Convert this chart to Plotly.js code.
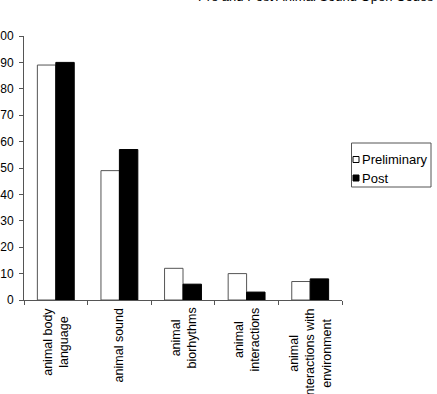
<!DOCTYPE html>
<html>
<head>
<meta charset="utf-8">
<script src="https://cdn.plot.ly/plotly-3.0.1.min.js"></script>
<style>
  html, body { margin: 0; padding: 0; background: #fff; }
  #chart { width: 437px; height: 394px; }
</style>
</head>
<body>
<div id="chart"></div>
<script>
// Open-code categories and their counts for each phase
const categories = [
  "animal body<br>language",
  "animal sound",
  "animal<br>biorhythms",
  "animal<br>interactions",
  "animal<br>interactions with<br>environment"
];
const seriesNames = ["Preliminary", "Post"];
const preliminary = [89, 49, 12, 10, 7];
const post = [90, 57, 6, 3, 8];
const yTicks = [0, 10, 20, 30, 40, 50, 60, 70, 80, 90, 100];
const chartTitle = "Pre and Post Animal Sound Open Codes";

const W = 437, H = 394;
const M = { l: 24, r: 95, t: 36, b: 94 };
const plotW = W - M.l - M.r, plotH = H - M.t - M.b;
// pixel -> paper coordinate helpers
const px = x => (x - M.l) / plotW;
const py = y => (H - M.b - y) / plotH;

const FONT = "Liberation Sans, Arial, sans-serif";
const AXIS = "#555555";

const traces = [
  {
    type: "bar", name: seriesNames[0], x: categories, y: preliminary,
    marker: { color: "#ffffff", line: { color: AXIS, width: 1 } },
    hoverinfo: "skip"
  },
  {
    type: "bar", name: seriesNames[1], x: categories, y: post,
    marker: { color: "#000000", line: { color: "#000000", width: 1 } },
    hoverinfo: "skip"
  }
];

// Rotated category labels beneath the axis, lines centred
const labelAnnotations = categories.map(c => ({
  x: c, xref: "x", y: py(306), yref: "paper",
  text: c, showarrow: false, textangle: -90,
  xanchor: "center", yanchor: "top", align: "center",
  font: { family: FONT, size: 12.5, color: "#000" }
}));

// Legend box drawn with shapes and text
const legendShapes = [
  { type: "rect", xref: "paper", yref: "paper",
    x0: px(351.5), x1: px(431), y0: py(143), y1: py(187),
    line: { color: AXIS, width: 1 }, fillcolor: "#fff" },
  { type: "rect", xref: "paper", yref: "paper",
    x0: px(353), x1: px(359), y0: py(156.5), y1: py(162.5),
    line: { color: "#000", width: 1 }, fillcolor: "#fff" },
  { type: "rect", xref: "paper", yref: "paper",
    x0: px(353), x1: px(359), y0: py(175), y1: py(181),
    line: { color: "#000", width: 1 }, fillcolor: "#000" }
];
const legendText = [
  { name: seriesNames[0], cy: 159.5 },
  { name: seriesNames[1], cy: 178 }
].map(d => ({
  xref: "paper", yref: "paper", x: px(359.5), y: py(d.cy),
  xanchor: "left", yanchor: "middle", text: d.name, showarrow: false,
  font: { family: FONT, size: 13, color: "#000" }
}));

// Chart title sits at the very top edge of the page
const titleAnn = {
  xref: "paper", yref: "paper", x: px(436), y: py(5.5),
  xanchor: "right", yanchor: "bottom", text: chartTitle, showarrow: false,
  font: { family: FONT, size: 13, color: "#000" }
};

const layout = {
  width: W, height: H,
  margin: M,
  paper_bgcolor: "#fff", plot_bgcolor: "#fff",
  showlegend: false,
  barmode: "group", bargap: 0.42, bargroupgap: 0,
  font: { family: FONT, size: 11, color: "#000" },
  xaxis: {
    type: "category", tickson: "boundaries",
    showticklabels: false, ticks: "outside", ticklen: 4, tickcolor: AXIS,
    showline: true, linecolor: AXIS, linewidth: 1,
    showgrid: false, zeroline: false, automargin: false, fixedrange: true
  },
  yaxis: {
    range: [0, 100], tickvals: yTicks, ticktext: yTicks.map(String),
    ticks: "outside", ticklen: 4, tickcolor: AXIS, ticklabelstandoff: 3,
    tickfont: { family: FONT, size: 12, color: "#000" },
    showline: true, linecolor: AXIS, linewidth: 1,
    showgrid: false, zeroline: false, automargin: false, fixedrange: true
  },
  shapes: legendShapes,
  annotations: [titleAnn, ...legendText, ...labelAnnotations]
};

Plotly.newPlot("chart", traces, layout, { staticPlot: true, displayModeBar: false });
</script>
</body>
</html>
